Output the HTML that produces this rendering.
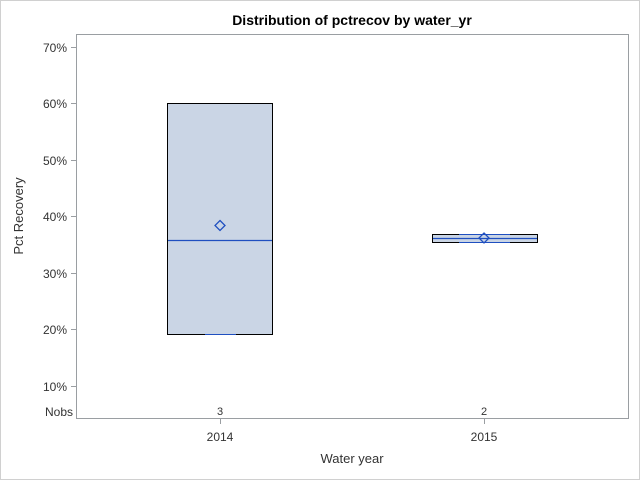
<!DOCTYPE html>
<html><head><meta charset="utf-8"><style>html,body{margin:0;padding:0;background:#fff}svg{display:block}text{font-family:"Liberation Sans",Arial,sans-serif}</style></head>
<body>
<svg width="640" height="480" xmlns="http://www.w3.org/2000/svg">
<rect x="0.5" y="0.5" width="639" height="479" fill="#fff" stroke="#d0d0d0"/>
<text x="352" y="25" font-size="14" font-weight="bold" text-anchor="middle">Distribution of pctrecov by water_yr</text>
<rect x="76.5" y="34.5" width="552" height="384" fill="none" stroke="#9a9ea2"/>
<g stroke="#9a9ea2">
<line x1="71" x2="76" y1="47.5" y2="47.5"/><line x1="71" x2="76" y1="103.5" y2="103.5"/><line x1="71" x2="76" y1="160.5" y2="160.5"/><line x1="71" x2="76" y1="216.5" y2="216.5"/><line x1="71" x2="76" y1="273.5" y2="273.5"/><line x1="71" x2="76" y1="329.5" y2="329.5"/><line x1="71" x2="76" y1="386.5" y2="386.5"/>
<line x1="220.5" x2="220.5" y1="419" y2="424"/><line x1="484.5" x2="484.5" y1="419" y2="424"/>
</g>
<g font-size="12" fill="#333" text-anchor="end">
<text x="67" y="52">70%</text><text x="67" y="108">60%</text><text x="67" y="165">50%</text><text x="67" y="221">40%</text><text x="67" y="278">30%</text><text x="67" y="334">20%</text><text x="67" y="391">10%</text>
<text x="73" y="416">Nobs</text>
</g>
<g font-size="11" fill="#333" text-anchor="middle"><text x="220" y="415">3</text><text x="484" y="415">2</text></g>
<g font-size="12" fill="#333" text-anchor="middle"><text x="220" y="441">2014</text><text x="484" y="441">2015</text></g>
<text x="352" y="463" font-size="13" fill="#333" text-anchor="middle">Water year</text>
<text transform="translate(23,216) rotate(-90)" font-size="13" fill="#333" text-anchor="middle">Pct Recovery</text>
<rect x="167.5" y="103.5" width="105" height="231" fill="#cad5e5" stroke="#000"/>
<line x1="168" x2="272" y1="240.5" y2="240.5" stroke="#1f4fc0" stroke-width="1.3"/>
<line x1="205" x2="236" y1="334.5" y2="334.5" stroke="#1f4fc0"/>
<path d="M220 220.5 l5 5 -5 5 -5 -5z" fill="none" stroke="#1f4fc0" stroke-width="1.3"/>
<rect x="432.5" y="234.5" width="105" height="8" fill="#cad5e5" stroke="#000"/>
<line x1="433" x2="537" y1="238.5" y2="238.5" stroke="#1f4fc0" stroke-width="1.3"/>
<line x1="459" x2="510" y1="234.5" y2="234.5" stroke="#1f4fc0"/>
<line x1="459" x2="510" y1="242.5" y2="242.5" stroke="#1f4fc0"/>
<path d="M484 233 l5 5 -5 5 -5 -5z" fill="none" stroke="#1f4fc0" stroke-width="1.3"/>
</svg>
</body></html>
